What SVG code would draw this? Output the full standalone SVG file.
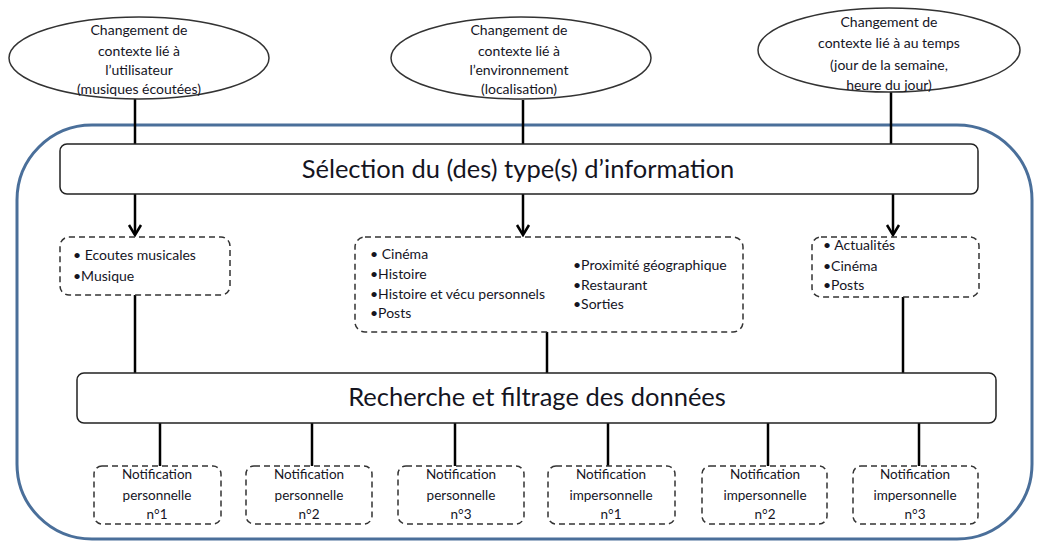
<svg xmlns="http://www.w3.org/2000/svg" width="1038" height="541" viewBox="0 0 1038 541">
<style>
text{font-family:Lato,"Liberation Sans",sans-serif;fill:#15151f}
.ell{fill:#fff;stroke:#333;stroke-width:1.5}
.bar{fill:#fff;stroke:#222;stroke-width:1.5}
.dash{fill:#fff;stroke:#333;stroke-width:1.5;stroke-dasharray:6 4}
.c{stroke:#000;stroke-width:2.5;fill:none}
.ah{stroke:#000;stroke-width:2.5;fill:none;stroke-linejoin:miter}
.s{font-size:14px;text-anchor:middle}
.l{font-size:14px}
.n{font-size:13.5px;text-anchor:middle}
.big{font-size:25.5px;text-anchor:middle}
</style>
<rect id="frame" x="17" y="125" width="1015" height="414" rx="75" ry="75" fill="none" stroke="#4a6f9a" stroke-width="3"/>
<g id="connectors">
<line class="c" x1="135" y1="99" x2="135" y2="144"/>
<line class="c" x1="523" y1="100" x2="523" y2="144"/>
<line class="c" x1="891" y1="92" x2="891" y2="144"/>
<line class="c" x1="135" y1="194" x2="135" y2="234"/>
<path class="ah" d="M129,225 L135,235 L141,225"/>
<line class="c" x1="523" y1="194" x2="523" y2="234"/>
<path class="ah" d="M517,225 L523,235 L529,225"/>
<line class="c" x1="893" y1="194" x2="893" y2="234"/>
<path class="ah" d="M887,225 L893,235 L899,225"/>
<line class="c" x1="135" y1="295" x2="135" y2="373"/>
<line class="c" x1="547" y1="332" x2="547" y2="373"/>
<line class="c" x1="903" y1="297" x2="903" y2="373"/>
<line class="c" x1="160" y1="423" x2="160" y2="466"/>
<line class="c" x1="312" y1="423" x2="312" y2="466"/>
<line class="c" x1="455" y1="423" x2="455" y2="466"/>
<line class="c" x1="608" y1="423" x2="608" y2="466"/>
<line class="c" x1="768" y1="423" x2="768" y2="466"/>
<line class="c" x1="919" y1="423" x2="919" y2="466"/>
</g>
<g id="ctx-user">
<ellipse class="ell" cx="139" cy="58" rx="130" ry="41"/>
<text class="s" x="139" y="35">Changement de</text>
<text class="s" x="139" y="56">contexte lié à</text>
<text class="s" x="139" y="75">l’utilisateur</text>
<text class="s" x="139" y="94">(musiques écoutées)</text>
</g>
<g id="ctx-env">
<ellipse class="ell" cx="521" cy="58" rx="130" ry="41"/>
<text class="s" x="519" y="35">Changement de</text>
<text class="s" x="519" y="56">contexte lié à</text>
<text class="s" x="519" y="75">l’environnement</text>
<text class="s" x="519" y="94">(localisation)</text>
</g>
<g id="ctx-time">
<ellipse class="ell" cx="889" cy="50" rx="131" ry="42"/>
<text class="s" x="889" y="27">Changement de</text>
<text class="s" x="889" y="48">contexte lié à au temps</text>
<text class="s" x="889" y="70">(jour de la semaine,</text>
<text class="s" x="889" y="90">heure du jour)</text>
</g>
<g id="selection">
<rect class="bar" x="60" y="144" width="918" height="50" rx="7"/>
<text class="big" x="518" y="178">Sélection du (des) type(s) d’information</text>
</g>
<g id="types-user">
<rect class="dash" x="60" y="237" width="170" height="58" rx="9"/>
<text class="l" x="73" y="260">• Ecoutes musicales</text>
<text class="l" x="73" y="281">•Musique</text>
</g>
<g id="types-env">
<rect class="dash" x="355" y="237" width="388" height="95" rx="10"/>
<text class="l" x="370" y="259">• Cinéma</text>
<text class="l" x="370" y="279">•Histoire</text>
<text class="l" x="370" y="299">•Histoire et vécu personnels</text>
<text class="l" x="370" y="318">•Posts</text>
<text class="l" x="573" y="270">•Proximité géographique</text>
<text class="l" x="573" y="290">•Restaurant</text>
<text class="l" x="573" y="309">•Sorties</text>
</g>
<g id="types-time">
<rect class="dash" x="812" y="237" width="167" height="60" rx="9"/>
<text class="l" x="823" y="250">• Actualités</text>
<text class="l" x="823" y="271">•Cinéma</text>
<text class="l" x="823" y="290">•Posts</text>
</g>
<g id="recherche">
<rect class="bar" x="77" y="373" width="919" height="50" rx="7"/>
<text class="big" x="537" y="406">Recherche et filtrage des données</text>
</g>
<g id="notif-p1">
<rect class="dash" x="94" y="466" width="127" height="58" rx="8"/>
<text class="n" x="157" y="479">Notification</text>
<text class="n" x="157" y="500">personnelle</text>
<text class="n" x="157" y="519">n°1</text>
</g>
<g id="notif-p2">
<rect class="dash" x="246" y="466" width="126" height="58" rx="8"/>
<text class="n" x="309" y="479">Notification</text>
<text class="n" x="309" y="500">personnelle</text>
<text class="n" x="309" y="519">n°2</text>
</g>
<g id="notif-p3">
<rect class="dash" x="398" y="466" width="126" height="58" rx="8"/>
<text class="n" x="461" y="479">Notification</text>
<text class="n" x="461" y="500">personnelle</text>
<text class="n" x="461" y="519">n°3</text>
</g>
<g id="notif-i1">
<rect class="dash" x="548" y="466" width="127" height="58" rx="8"/>
<text class="n" x="611" y="479">Notification</text>
<text class="n" x="611" y="500">impersonnelle</text>
<text class="n" x="611" y="519">n°1</text>
</g>
<g id="notif-i2">
<rect class="dash" x="702" y="466" width="125" height="58" rx="8"/>
<text class="n" x="765" y="479">Notification</text>
<text class="n" x="765" y="500">impersonnelle</text>
<text class="n" x="765" y="519">n°2</text>
</g>
<g id="notif-i3">
<rect class="dash" x="853" y="466" width="125" height="58" rx="8"/>
<text class="n" x="915" y="479">Notification</text>
<text class="n" x="915" y="500">impersonnelle</text>
<text class="n" x="915" y="519">n°3</text>
</g>
</svg>
